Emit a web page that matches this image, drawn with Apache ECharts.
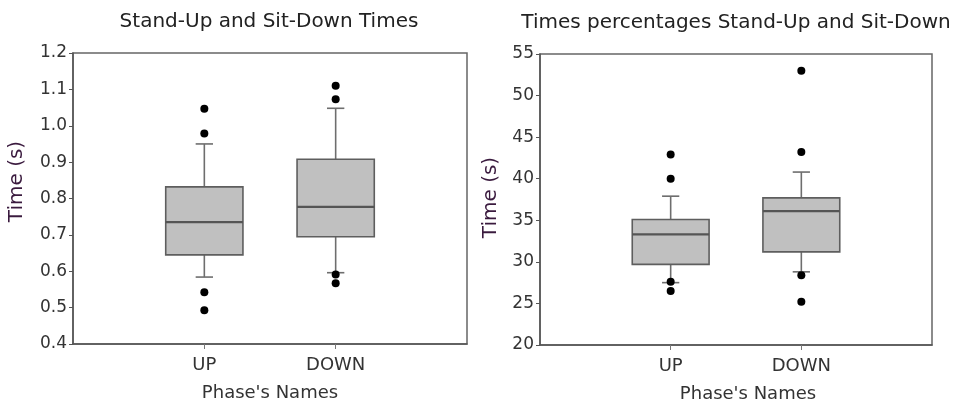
<!DOCTYPE html>
<html>
<head>
<meta charset="utf-8">
<script src="https://cdn.jsdelivr.net/npm/echarts@6/dist/echarts.min.js"></script>
<style>
html,body{margin:0;padding:0;background:#fff;}
#c{width:956px;height:404px;}
</style>
</head>
<body>
<div id="c"></div>
<script>
// ---- data ----
const categories = ['UP', 'DOWN'];
const xAxisCats = ['', 'UP', 'DOWN', ''];
// [min whisker, Q1, median, Q3, max whisker]
const timeBoxes = [
  [0.584, 0.645, 0.735, 0.832, 0.950],
  [0.596, 0.695, 0.777, 0.908, 1.048]
];
const timeOutliers = [
  [1.047, 0.979, 0.542, 0.493],
  [1.110, 1.073, 0.591, 0.567]
];
const pctBoxes = [
  [27.5, 29.7, 33.3, 35.1, 37.9],
  [28.8, 31.2, 36.1, 37.7, 40.8]
];
const pctOutliers = [
  [42.9, 40.0, 27.6, 26.5],
  [53.0, 43.2, 28.4, 25.2]
];
const timeTicks = { min: 0.4, max: 1.2, interval: 0.1 };
const pctTicks = { min: 20, max: 55, interval: 5 };
const titles = ['Stand-Up and Sit-Down Times', 'Times percentages Stand-Up and Sit-Down'];
const yName = 'Time (s)';
const xName = "Phase's Names";

// ---- chart ----
const FONT = 'DejaVu Sans';
const TXT = '#333';
const chart = echarts.init(document.getElementById('c'), null, { renderer: 'canvas' });

function boxData(boxes) {
  return boxes.map((b, i) => [categories[i]].concat(b));
}
function outlierData(outs) {
  const d = [];
  outs.forEach((arr, i) => arr.forEach(v => d.push([categories[i], v])));
  return d;
}
function renderBox(params, api) {
  const c = api.value(0);
  const vals = [1, 2, 3, 4, 5].map(k => api.coord([c, api.value(k)]));
  const x = vals[0][0];
  const yMin = vals[0][1], yQ1 = vals[1][1], yMed = vals[2][1], yQ3 = vals[3][1], yMax = vals[4][1];
  const band = api.size([1, 0])[0];
  const hw = band * 0.294;
  const cw = band * 0.066;
  const wStyle = { stroke: '#6e6e6e', lineWidth: 1.6 };
  return {
    type: 'group',
    children: [
      { type: 'line', shape: { x1: x, y1: yQ3, x2: x, y2: yMax }, style: wStyle },
      { type: 'line', shape: { x1: x - cw, y1: yMax, x2: x + cw, y2: yMax }, style: wStyle },
      { type: 'line', shape: { x1: x, y1: yQ1, x2: x, y2: yMin }, style: wStyle },
      { type: 'line', shape: { x1: x - cw, y1: yMin, x2: x + cw, y2: yMin }, style: wStyle },
      { type: 'rect', shape: { x: x - hw, y: yQ3, width: 2 * hw, height: yQ1 - yQ3 },
        style: { fill: '#c0c0c0', stroke: '#5e5e5e', lineWidth: 1.6 } },
      { type: 'line', shape: { x1: x - hw, y1: yMed, x2: x + hw, y2: yMed },
        style: { stroke: '#555', lineWidth: 2.2 } }
    ]
  };
}

function xAxis(gi) {
  return {
    type: 'category', gridIndex: gi, data: xAxisCats, boundaryGap: false,
    name: xName, nameLocation: 'middle', nameGap: 40,
    nameTextStyle: { fontFamily: FONT, fontSize: 18, color: TXT, padding: gi === 1 ? [0, 0, 0, 24] : 0 },
    axisLine: { lineStyle: { color: '#555', width: 1.5 } },
    axisTick: { show: true, length: 5, interval: (i) => i === 1 || i === 2, lineStyle: { color: '#777' } },
    axisLabel: { interval: 0, fontFamily: FONT, fontSize: 18, color: TXT, margin: 12 },
    splitLine: { show: false }
  };
}
function yAxis(gi, t, fmt) {
  return {
    type: 'value', gridIndex: gi, min: t.min, max: t.max, interval: t.interval,
    name: yName, nameLocation: 'middle', nameGap: gi === 0 ? 46 : 39, nameRotate: 90,
    nameTextStyle: { fontFamily: FONT, fontSize: 20, color: '#3a1a3e',
      padding: gi === 0 ? [0, 0, 0, 34] : [0, 0, 0, 4] },
    axisLine: { show: true, lineStyle: { color: '#555', width: 1.5 } },
    axisTick: { show: true, length: 4, lineStyle: { color: '#555' } },
    axisLabel: { fontFamily: FONT, fontSize: 17, color: TXT, margin: 6, formatter: fmt },
    splitLine: { show: false }
  };
}

chart.setOption({
  animation: false,
  backgroundColor: '#fff',
  title: [
    { text: titles[0], left: 264, top: 7, textAlign: 'center',
      textStyle: { fontFamily: FONT, fontSize: 20, fontWeight: 'normal', color: '#222' } },
    { text: titles[1], left: 731, top: 8, textAlign: 'center',
      textStyle: { fontFamily: FONT, fontSize: 20, fontWeight: 'normal', color: '#222' } }
  ],
  grid: [
    { left: 73, top: 53, width: 394, height: 291, show: true, borderColor: '#666', borderWidth: 1.5,
      containLabel: false, outerBoundsMode: 'none' },
    { left: 540, top: 54, width: 392, height: 291, show: true, borderColor: '#666', borderWidth: 1.5,
      containLabel: false, outerBoundsMode: 'none' }
  ],
  xAxis: [xAxis(0), xAxis(1)],
  yAxis: [
    yAxis(0, timeTicks, v => v.toFixed(1)),
    yAxis(1, pctTicks, v => String(Math.round(v)))
  ],
  series: [
    { type: 'custom', xAxisIndex: 0, yAxisIndex: 0, renderItem: renderBox, clip: false,
      encode: { x: 0, y: [1, 2, 3, 4, 5] }, data: boxData(timeBoxes) },
    { type: 'scatter', xAxisIndex: 0, yAxisIndex: 0, symbolSize: 8,
      itemStyle: { color: '#000', opacity: 1 }, data: outlierData(timeOutliers), z: 5 },
    { type: 'custom', xAxisIndex: 1, yAxisIndex: 1, renderItem: renderBox, clip: false,
      encode: { x: 0, y: [1, 2, 3, 4, 5] }, data: boxData(pctBoxes) },
    { type: 'scatter', xAxisIndex: 1, yAxisIndex: 1, symbolSize: 8,
      itemStyle: { color: '#000', opacity: 1 }, data: outlierData(pctOutliers), z: 5 }
  ]
});
</script>
</body>
</html>
